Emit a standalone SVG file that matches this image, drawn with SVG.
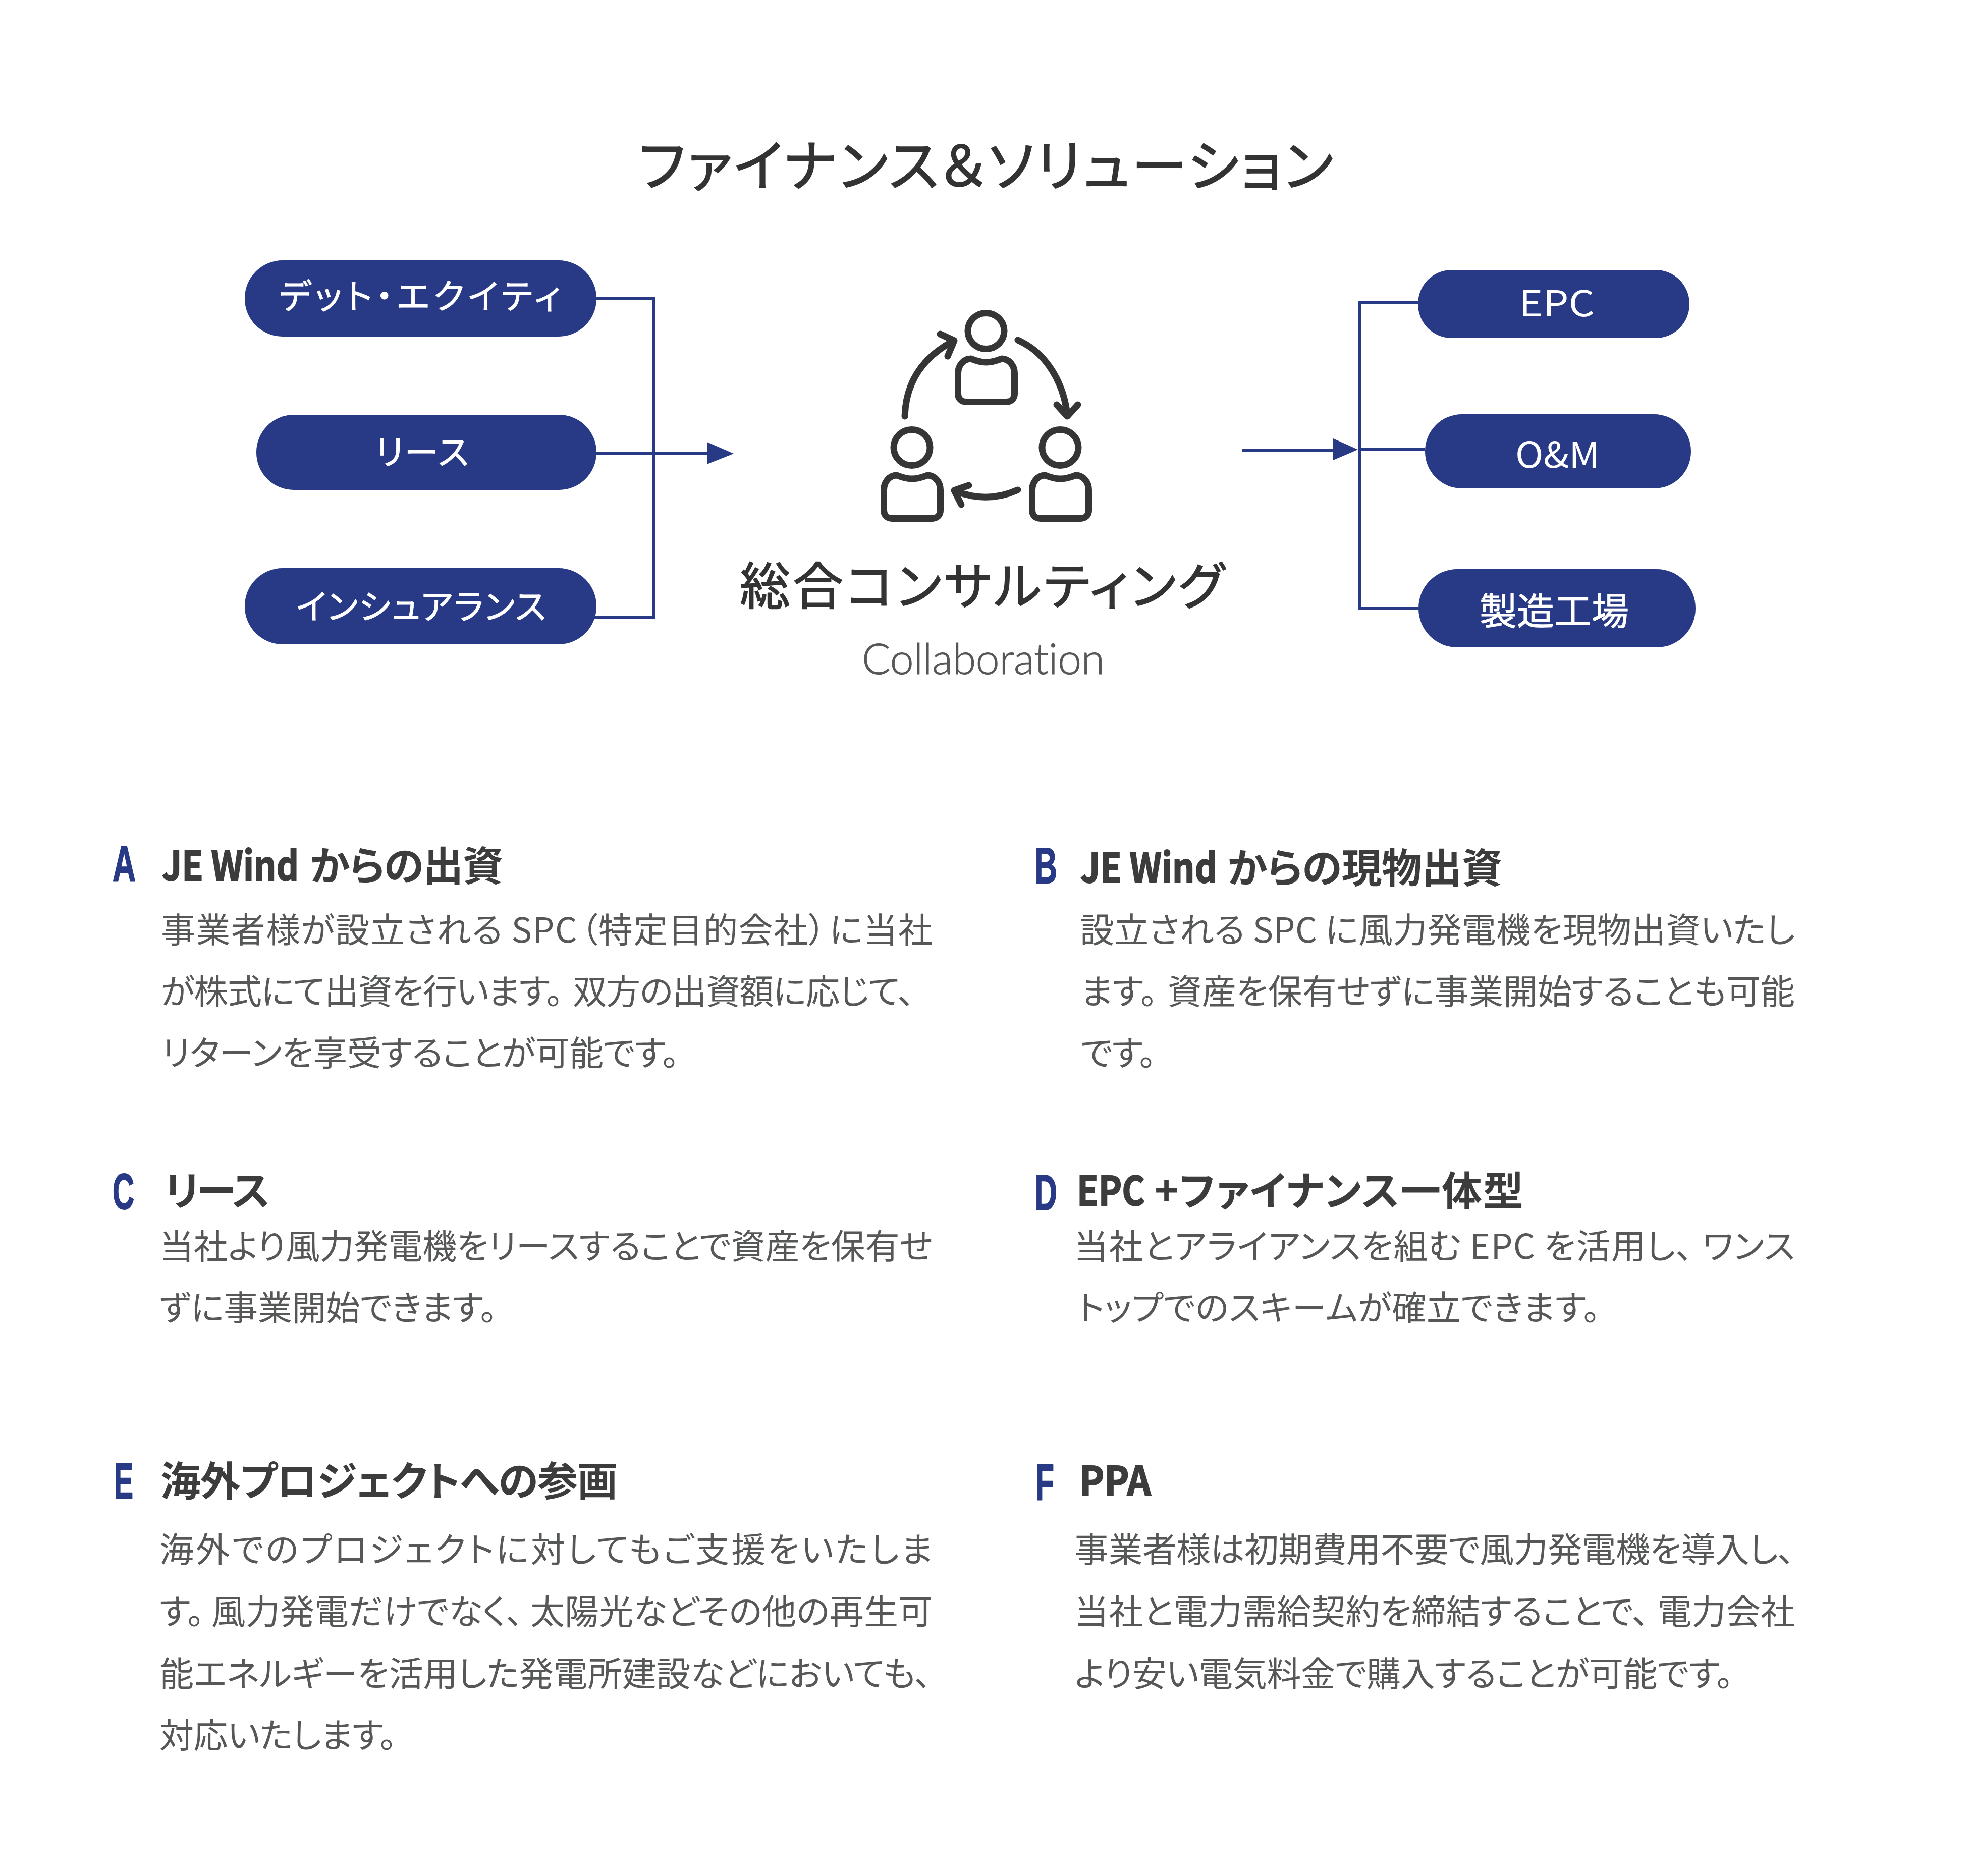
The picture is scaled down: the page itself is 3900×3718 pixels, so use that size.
<svg xmlns="http://www.w3.org/2000/svg" width="3900" height="3718" viewBox="0 0 3900 3718">
<style>
text{font-family:"Noto Sans CJK JP","Noto Sans",sans-serif;font-feature-settings:"palt"}
.pill{fill:#283a86}
.pl{fill:#fff;font-size:68px;stroke:#fff;stroke-width:1px;stroke-linejoin:round}
.ln{fill:none;stroke:#283a86;stroke-width:6}
.ah{fill:#283a86}
.ic{fill:none;stroke:#353535;stroke-width:13;stroke-linecap:round;stroke-linejoin:round}
.b{fill:#555856;font-size:68px}
.h{fill:#3c3c3c;font-size:80px;font-weight:700}
.hl{stroke:#3c3c3c;stroke-width:2px}
.l{fill:#283a86;stroke:#283a86;stroke-width:2px;stroke-linejoin:round;font-size:101px;font-weight:700;font-family:"Liberation Sans",sans-serif}
.t{fill:#333;stroke:#333;stroke-width:1.8px;stroke-linejoin:round}
</style>
<defs>
<g id="person" class="ic"><ellipse cx="0" cy="0" rx="36" ry="35.5"/><path d="M-30 55C-20 59-10 62 0 62C11 62 21 59 31 55C46 55 56.5 69 56.5 84L56.5 124C56.5 134 50 140.5 40 140.5L-39 140.5C-49 140.5-55.5 134-55.5 124L-55.5 84C-55.5 69-45 55-30 55Z"/></g>
</defs>
<rect width="3900" height="3718" fill="#fff"/>
<text id="title" class="t" x="1266" y="369" font-size="110" textLength="1376">ファイナンス＆ソリューション</text>
<g id="connectors">
<path class="ln" d="M1182 591H1295V1223H1175"/>
<path class="ln" d="M1182 899H1405"/>
<path class="ah" d="M1401 876L1454 899L1401 920Z"/>
<path class="ln" d="M2810 600H2695V1206H2811"/>
<path class="ln" d="M2695 890H2824"/>
<path class="ln" d="M2462 892H2660"/>
<path class="ah" d="M2642 869L2691 891L2642 912Z"/>
</g>
<g id="n-debt"><rect class="pill" x="485" y="516" width="697" height="151" rx="75"/><text class="pl" x="553" y="612" textLength="558">デット・エクイティ</text></g>
<g id="n-lease"><rect class="pill" x="508" y="822" width="674" height="149" rx="74"/><text class="pl" x="744" y="921" textLength="185">リース</text></g>
<g id="n-ins"><rect class="pill" x="485" y="1126" width="697" height="151" rx="75"/><text class="pl" x="587" y="1227" textLength="495">インシュアランス</text></g>
<g id="n-epc"><rect class="pill" x="2810" y="535" width="538" height="135" rx="67"/><text class="pl" x="3010" y="627" textLength="150" lengthAdjust="spacingAndGlyphs" style="font-size:71px;stroke-width:0">EPC</text></g>
<g id="n-om"><rect class="pill" x="2824" y="821" width="527" height="147" rx="73"/><text class="pl" x="3003" y="927" textLength="167" lengthAdjust="spacingAndGlyphs" style="font-size:71px;stroke-width:0">O&amp;M</text></g>
<g id="n-factory"><rect class="pill" x="2811" y="1128" width="549" height="155" rx="77"/><text class="pl" x="2932" y="1238" textLength="296" style="font-size:74px">製造工場</text></g>
<g id="n-center">
<use href="#person" x="1954" y="656"/><use href="#person" x="1807" y="887"/><use href="#person" x="2101" y="887"/>
<path class="ic" d="M1793 825C1795 760 1825 710 1889 676M1863 662L1891 675L1878 706"/>
<path class="ic" d="M2017 674C2075 700 2108 760 2115 822M2094 802L2115 825L2136 802"/>
<path class="ic" d="M2017 971C1975 990 1935 990 1893 973M1920 962L1891 972L1905 1000"/>
<text class="t" x="1466" y="1198" font-size="100" textLength="960">総合コンサルティング</text>
<text x="1708" y="1336" font-size="84" fill="#555856" stroke="#555856" stroke-width="1" font-weight="300" textLength="481" style="font-family:Lato,sans-serif;font-feature-settings:normal;font-variant-ligatures:none">Collaboration</text>
</g>
<g id="a"><text class="l" x="223" y="1747" textLength="46" lengthAdjust="spacingAndGlyphs">A</text><text class="h hl" x="321" y="1745" textLength="271" lengthAdjust="spacingAndGlyphs">JE Wind</text><text class="h" x="614" y="1745" textLength="383">からの出資</text>
<text class="b" x="319" y="1868" textLength="1529">事業者様が設立される SPC<tspan dx="6">（</tspan>特定目的会社<tspan>）</tspan><tspan dx="6">に</tspan>当社</text><text class="b" x="319" y="1990" textLength="1494">が株式にて出資を行います。<tspan dx="20">双</tspan>方の出資額に応じて、</text><text class="b" x="321" y="2112" textLength="1025">リターンを享受することが可能です。</text></g>
<g id="b"><text class="l" x="2050" y="1750" textLength="45" lengthAdjust="spacingAndGlyphs">B</text><text class="h hl" x="2141" y="1749" textLength="271" lengthAdjust="spacingAndGlyphs">JE Wind</text><text class="h" x="2432" y="1749" textLength="545">からの現物出資</text>
<text class="b" x="2140" y="1868" textLength="1417">設立される SPC に風力発電機を現物出資いたし</text><text class="b" x="2142" y="1990" textLength="1415">ます。<tspan dx="20">資</tspan>産を保有せずに事業開始することも可能</text><text class="b" x="2142" y="2112" textLength="149">です。</text></g>
<g id="c"><text class="l" x="223" y="2396" textLength="43" lengthAdjust="spacingAndGlyphs">C</text><text class="h" x="326" y="2389" textLength="209">リース</text>
<text class="b" x="316" y="2495" textLength="1532">当社より風力発電機をリースすることで資産を保有せ</text><text class="b" x="316" y="2617" textLength="669">ずに事業開始できます。</text></g>
<g id="d"><text class="l" x="2050" y="2398" textLength="45" lengthAdjust="spacingAndGlyphs">D</text><text class="h hl" x="2134" y="2389" textLength="135" lengthAdjust="spacingAndGlyphs">EPC</text><text class="h" x="2288" y="2389" textLength="731">+ファイナンス一体型</text>
<text class="b" x="2128" y="2495" textLength="1429">当社とアライアンスを組む EPC を活用し、<tspan dx="18">ワ</tspan>ンス</text><text class="b" x="2136" y="2617" textLength="1035">トップでのスキームが確立できます。</text></g>
<g id="e"><text class="l" x="226" y="2970" textLength="38" lengthAdjust="spacingAndGlyphs">E</text><text class="h" x="318" y="2964" textLength="906">海外プロジェクトへの参画</text>
<text class="b" x="316" y="3096" textLength="1532">海外でのプロジェクトに対してもご支援をいたしま</text><text class="b" x="316" y="3219" textLength="1532">す。<tspan dx="14">風</tspan>力発電だけでなく、<tspan dx="14">太</tspan>陽光などその他の再生可</text><text class="b" x="316" y="3342" textLength="1530">能エネルギーを活用した発電所建設などにおいても、</text><text class="b" x="316" y="3464" textLength="470">対応いたします。</text></g>
<g id="f"><text class="l" x="2052" y="2972" textLength="37" lengthAdjust="spacingAndGlyphs">F</text><text class="h hl" x="2139" y="2964" textLength="142" lengthAdjust="spacingAndGlyphs">PPA</text>
<text class="b" x="2129" y="3096" textLength="1428">事業者様は初期費用不要で風力発電機を導入し、</text><text class="b" x="2129" y="3219" textLength="1428">当社と電力需給契約を締結することで、<tspan dx="16">電</tspan>力会社</text><text class="b" x="2130" y="3342" textLength="1305">より安い電気料金で購入することが可能です。</text></g>
</svg>
